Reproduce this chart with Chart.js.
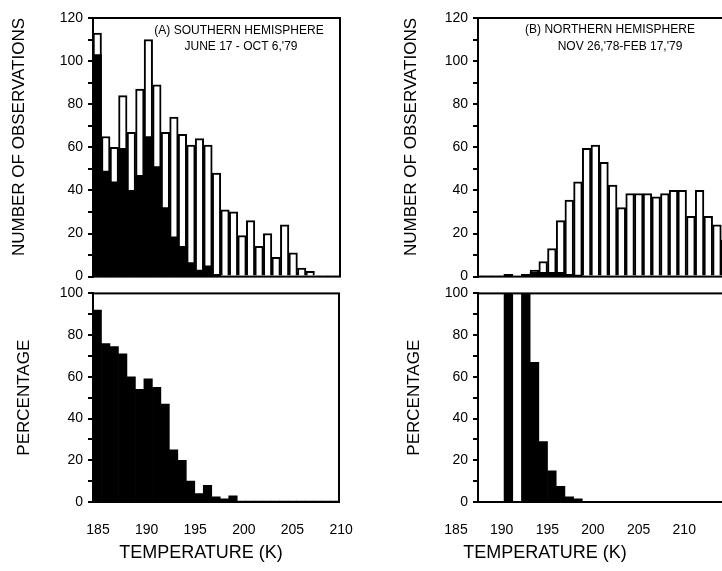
<!DOCTYPE html>
<html lang="en">
<head>
<meta charset="UTF-8" />
<title>Observations by temperature</title>
<script src="https://cdn.jsdelivr.net/npm/chart.js@4.4.1/dist/chart.umd.min.js"></script>
<style>
  html, body { margin: 0; padding: 0; background: #fff; width: 722px; height: 571px; overflow: hidden; }
  canvas { position: absolute; }
</style>
</head>
<body>
<canvas id="southCount" width="360" height="290" style="left:0;top:0"></canvas>
<canvas id="southPct" width="360" height="291" style="left:0;top:280px"></canvas>
<canvas id="northCount" width="352" height="290" style="left:380px;top:0"></canvas>
<canvas id="northPct" width="352" height="291" style="left:380px;top:280px"></canvas>

<script>
// temperature bins (one bar each)
const bins = ['185','186','187','188','189','190','191','192','193','194','195','196','197','198','199',
              '200','201','202','203','204','205','206','207','208','209','210','211','212','213'];
const tempTicks = [185, 190, 195, 200, 205, 210];

// (A) southern hemisphere
const southTotal = [113, 65, 60, 84, 67, 87, 110, 89, 67, 74, 66, 61, 64, 61, 48,
                    31, 30, 19, 26, 14, 20, 9, 24, 11, 4, 2.5, 0.5, 0.5, 0.5];
const southCold  = [103, 49, 44, 59.5, 40, 47, 65, 51, 32, 18.5, 14, 6.5, 3, 5, 1,
                    0, 0, 0, 0, 0, 0, 0, 0, 0, 0, 0, 0, 0, 0];
const southPct   = [92, 76, 74.5, 71, 60, 54, 59, 55, 47, 25, 20, 10, 4, 8, 2.5,
                    1.5, 3, 0.5, 0.5, 0.5, 0.5, 0.5, 0.5, 0.5, 0.5, 0.5, 0.5, 0.5, 0.5];

// (B) northern hemisphere
const northTotal = [0.5, 0.5, 0.5, 1, 0, 1, 3, 7, 13, 26, 35.5, 44, 59.5, 61, 53,
                    42.5, 32, 38.5, 38.5, 38.5, 37, 38.5, 40, 40, 28, 40, 28, 24, 17];
const northCold  = [0, 0, 0, 1, 0, 1, 2, 2, 2, 2, 1, 0.7, 0, 0, 0,
                    0, 0, 0, 0, 0, 0, 0, 0, 0, 0, 0, 0, 0, 0];
const northPct   = [0, 0, 0, 100, 0, 100, 67, 29, 15, 7.5, 2.5, 1.5, 0, 0, 0,
                    0, 0, 0, 0, 0, 0, 0, 0, 0, 0, 0, 0, 0, 0];

Chart.defaults.font.family = '"Liberation Sans", Arial, sans-serif';
Chart.defaults.color = '#000';

// box round the plot area + free text inside/below it
const panelText = {
  id: 'panelText',
  afterDraw(chart, args, opts) {
    const { ctx, chartArea: a } = chart;
    ctx.save();
    ctx.strokeStyle = '#000';
    ctx.lineWidth = 2;
    ctx.strokeRect(a.left, a.top, a.right - a.left, a.bottom - a.top);
    ctx.fillStyle = '#000';
    ctx.textAlign = 'center';
    ctx.textBaseline = 'middle';
    (opts.notes || []).forEach(n => {
      ctx.font = n.font;
      const y = n.below ? a.bottom + n.dy : a.top + n.dy;
      ctx.fillText(n.text, a.left + n.dx, y);
    });
    ctx.restore();
  }
};

function yAxis(max, title, titlePad, align, width) {
  return {
    min: 0,
    max: max,
    ticks: {
      stepSize: 10,
      autoSkip: false,
      padding: 5,
      font: { size: 14 },
      callback: v => (v % 20 === 0 ? v : '')
    },
    grid: { drawOnChartArea: false, drawTicks: true, tickLength: 5, color: '#000', lineWidth: 2 },
    border: { display: true, color: '#000', width: 2 },
    title: { display: true, text: title, font: { size: 17 }, padding: { top: titlePad, bottom: 0 }, align: align },
    afterFit: s => { s.width = width; }
  };
}

function countChart(id, total, cold, yWidth, titlePad, padRight, notes) {
  return new Chart(document.getElementById(id), {
    type: 'bar',
    data: {
      labels: bins,
      datasets: [
        { data: cold, backgroundColor: '#000', borderWidth: 0, grouped: false, order: 1 },
        { data: total, backgroundColor: '#fff', borderColor: '#000', borderWidth: 2, grouped: false, order: 2 }
      ]
    },
    options: {
      responsive: false,
      animation: false,
      layout: { padding: { top: 18, bottom: 12, right: padRight } },
      datasets: { bar: { categoryPercentage: 1, barPercentage: 1 } },
      scales: {
        x: { display: false },
        y: yAxis(120, 'NUMBER OF OBSERVATIONS', titlePad, 'end', yWidth)
      },
      plugins: {
        legend: { display: false },
        tooltip: { enabled: false },
        panelText: { notes: notes }
      }
    },
    plugins: [panelText]
  });
}

function pctChart(id, pct, yWidth, titlePad, padRight, tMax, labelOffset, notes) {
  return new Chart(document.getElementById(id), {
    type: 'bar',
    data: {
      labels: bins,
      datasets: [{ data: pct, backgroundColor: '#000', borderWidth: 0 }]
    },
    options: {
      responsive: false,
      animation: false,
      layout: { padding: { top: 9, right: padRight } },
      datasets: { bar: { categoryPercentage: 1, barPercentage: 1 } },
      scales: {
        x: { display: false },
        t: {
          type: 'linear',
          position: 'bottom',
          offset: false,
          min: 185,
          max: tMax,
          afterBuildTicks: s => { s.ticks = tempTicks.map(v => ({ value: v })); },
          ticks: { labelOffset: labelOffset, padding: 12, font: { size: 14 }, maxRotation: 0, autoSkip: false },
          grid: { display: false, offset: false },
          border: { display: false },
          afterFit: s => { s.height = 69; }
        },
        y: yAxis(100, 'PERCENTAGE', titlePad, 'center', yWidth)
      },
      plugins: {
        legend: { display: false },
        tooltip: { enabled: false },
        panelText: { notes: notes }
      }
    },
    plugins: [panelText]
  });
}

const noteFont = '12px "Liberation Sans", Arial, sans-serif';
const axisFont = '18px "Liberation Sans", Arial, sans-serif';

countChart('southCount', southTotal, southCold, 93, 9, 20, [
  { text: '(A) SOUTHERN HEMISPHERE', dx: 146, dy: 13, font: noteFont },
  { text: "JUNE 17 - OCT 6,'79", dx: 148, dy: 29, font: noteFont }
]);
pctChart('southPct', southPct, 93, 14, 20, 210.3, 5, [
  { text: 'TEMPERATURE (K)', dx: 108, dy: 51, below: true, font: axisFont }
]);
countChart('northCount', northTotal, northCold, 98, 21, 2, [
  { text: '(B) NORTHERN HEMISPHERE', dx: 132, dy: 12, font: noteFont },
  { text: "NOV 26,'78-FEB 17,'79", dx: 142, dy: 29, font: noteFont }
]);
pctChart('northPct', northPct, 98, 24, 2, 212.6, -22, [
  { text: 'TEMPERATURE (K)', dx: 67, dy: 51, below: true, font: axisFont }
]);
</script>
</body>
</html>
